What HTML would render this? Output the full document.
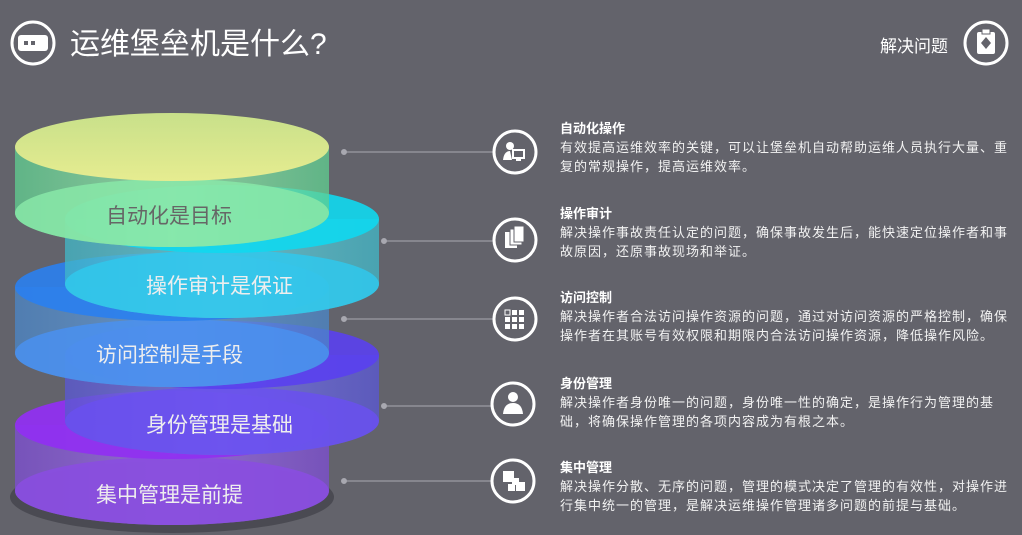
<!DOCTYPE html>
<html><head><meta charset="utf-8"><style>
html,body{margin:0;padding:0;background:#63636b;width:1022px;height:535px;overflow:hidden}
svg{display:block}
text{font-family:"Liberation Sans","Noto Sans CJK SC",sans-serif}
.t{fill:#fff;font-size:13px;font-weight:bold}
.b{fill:#f2f2f2;font-size:13px;letter-spacing:1px}
.c{font-size:21px}
</style></head><body>
<svg width="1022" height="535" viewBox="0 0 1022 535" xmlns="http://www.w3.org/2000/svg">
<defs>
<linearGradient id="s1" x1="0" x2="1"><stop offset="0" stop-color="#5fcf90"/><stop offset=".5" stop-color="#a0ecb0"/><stop offset="1" stop-color="#5fcf90"/></linearGradient>
<linearGradient id="t1" x1="0" y1="0" x2="0" y2="1"><stop offset="0" stop-color="#c8e08a"/><stop offset="1" stop-color="#e6ec90"/></linearGradient>
<linearGradient id="s2" x1="0" x2="1"><stop offset="0" stop-color="#40b8c8"/><stop offset=".5" stop-color="#70d0dc"/><stop offset="1" stop-color="#40b8c8"/></linearGradient>
<linearGradient id="s3" x1="0" x2="1"><stop offset="0" stop-color="#4a86c8"/><stop offset=".5" stop-color="#6aa0d8"/><stop offset="1" stop-color="#4a86c8"/></linearGradient>
<linearGradient id="s4" x1="0" x2="1"><stop offset="0" stop-color="#5a58d0"/><stop offset=".5" stop-color="#7a78e0"/><stop offset="1" stop-color="#5a58d0"/></linearGradient>
<linearGradient id="s5" x1="0" x2="1"><stop offset="0" stop-color="#7a50c8"/><stop offset=".5" stop-color="#9a70dc"/><stop offset="1" stop-color="#7a50c8"/></linearGradient>
</defs>
<rect width="1022" height="535" fill="#63636b"/>

<ellipse cx="172" cy="497" rx="162" ry="36" fill="#4a4a52"/>
<path d="M15 425 L15 491 A157 34 0 0 0 329 491 L329 425 Z" fill="url(#s5)" opacity=".85"/>
<ellipse cx="172" cy="491" rx="157" ry="34" fill="#8a4ee0" opacity=".9"/>
<ellipse cx="172" cy="425" rx="157" ry="34" fill="#9030f0" opacity=".95"/>
<text x="96" y="502" class="c" fill="#eee">集中管理是前提</text>

<path d="M65 355 L65 421 A157 34 0 0 0 379 421 L379 355 Z" fill="url(#s4)" opacity=".8"/>
<ellipse cx="222" cy="421" rx="157" ry="34" fill="#6a50f0" opacity=".85"/>
<ellipse cx="222" cy="355" rx="157" ry="34" fill="#5a40f0" opacity=".9"/>
<text x="146" y="432" class="c" fill="#eee">身份管理是基础</text>

<path d="M15 287 L15 353 A157 34 0 0 0 329 353 L329 287 Z" fill="url(#s3)" opacity=".75"/>
<ellipse cx="172" cy="353" rx="157" ry="34" fill="#4a90f0" opacity=".85"/>
<ellipse cx="172" cy="287" rx="157" ry="34" fill="#2a80f0" opacity=".9"/>
<text x="96" y="362" class="c" fill="#eee">访问控制是手段</text>

<path d="M65 219 L65 284 A157 34 0 0 0 379 284 L379 219 Z" fill="url(#s2)" opacity=".75"/>
<ellipse cx="222" cy="284" rx="157" ry="34" fill="#30c8ec" opacity=".85"/>
<ellipse cx="222" cy="219" rx="157" ry="34" fill="#10d8f0" opacity=".9"/>
<text x="146" y="293" class="c" fill="#eee">操作审计是保证</text>

<path d="M15 147 L15 213 A157 34 0 0 0 329 213 L329 147 Z" fill="url(#s1)" opacity=".75"/>
<ellipse cx="172" cy="213" rx="157" ry="34" fill="#88e8a8" opacity=".85"/>
<ellipse cx="172" cy="147" rx="157" ry="34" fill="url(#t1)"/>
<text x="106" y="223" class="c" fill="#666">自动化是目标</text>

<g stroke="#a8a8b0" stroke-width="1" fill="#a8a8b0">
<line x1="344" y1="152" x2="493" y2="152"/><circle cx="344" cy="152" r="2.5"/>
<line x1="384" y1="241" x2="493" y2="241"/><circle cx="384" cy="241" r="2.5"/>
<line x1="344" y1="319" x2="493" y2="319"/><circle cx="344" cy="319" r="2.5"/>
<line x1="384" y1="406" x2="493" y2="406"/><circle cx="384" cy="406" r="2.5"/>
<line x1="344" y1="481" x2="493" y2="481"/><circle cx="344" cy="481" r="2.5"/>
</g>
<g fill="none" stroke="#fff" stroke-width="3">
<circle cx="515" cy="152" r="21"/><circle cx="515" cy="240" r="21"/><circle cx="515" cy="319" r="21"/><circle cx="513" cy="404" r="21"/><circle cx="513" cy="481" r="21"/>
</g>
<g fill="#fff">
<circle cx="510" cy="146" r="4"/><path d="M503 160 Q504 151 510 151 L512 160Z"/><rect x="513" y="150" width="11" height="8" fill="none" stroke="#fff" stroke-width="2"/><rect x="516" y="158" width="5" height="3"/>
<rect x="505" y="232" width="12" height="16"/><rect x="510" y="229" width="12" height="16" stroke="#63636b" stroke-width="1"/><rect x="514" y="226" width="10" height="16" stroke="#63636b" stroke-width="1"/>
<rect x="505" y="310" width="5" height="5" fill="none" stroke="#fff" stroke-width="1"/><rect x="512" y="310" width="5" height="5"/><rect x="519" y="310" width="5" height="5"/><rect x="505" y="317" width="5" height="5"/><rect x="512" y="317" width="5" height="5"/><rect x="519" y="317" width="5" height="5"/><rect x="505" y="324" width="5" height="5"/><rect x="512" y="324" width="5" height="5"/><rect x="519" y="324" width="5" height="5"/>
<circle cx="513" cy="397" r="5"/><path d="M503 414 Q504 403 513 403 Q522 403 523 414Z"/>
<rect x="503" y="471" width="11" height="11"/><rect x="512" y="478" width="7" height="7"/><rect x="508" y="484" width="7" height="7"/><rect x="516" y="482" width="9" height="9"/>
</g>

<text x="560" y="133" class="t">自动化操作</text>
<text x="560" y="152" class="b">有效提高运维效率的关键，可以让堡垒机自动帮助运维人员执行大量、重</text>
<text x="560" y="171" class="b">复的常规操作，提高运维效率。</text>
<text x="560" y="218" class="t">操作审计</text>
<text x="560" y="237" class="b">解决操作事故责任认定的问题，确保事故发生后，能快速定位操作者和事</text>
<text x="560" y="256" class="b">故原因，还原事故现场和举证。</text>
<text x="560" y="302" class="t">访问控制</text>
<text x="560" y="321" class="b">解决操作者合法访问操作资源的问题，通过对访问资源的严格控制，确保</text>
<text x="560" y="340" class="b">操作者在其账号有效权限和期限内合法访问操作资源，降低操作风险。</text>
<text x="560" y="388" class="t">身份管理</text>
<text x="560" y="407" class="b">解决操作者身份唯一的问题，身份唯一性的确定，是操作行为管理的基</text>
<text x="560" y="426" class="b">础，将确保操作管理的各项内容成为有根之本。</text>
<text x="560" y="472" class="t">集中管理</text>
<text x="560" y="491" class="b">解决操作分散、无序的问题，管理的模式决定了管理的有效性，对操作进</text>
<text x="560" y="510" class="b">行集中统一的管理，是解决运维操作管理诸多问题的前提与基础。</text>

<circle cx="33" cy="43" r="21" fill="none" stroke="#fff" stroke-width="3"/>
<rect x="18" y="35" width="30" height="16" rx="3" fill="#fff"/>
<rect x="24" y="41" width="4" height="4" fill="#63636b"/><rect x="31" y="41" width="4" height="4" fill="#63636b"/>
<text x="70" y="54" fill="#fff" font-size="30">运维堡垒机是什么?</text>
<text x="880" y="52" fill="#fff" font-size="17">解决问题</text>
<circle cx="986" cy="43" r="21" fill="none" stroke="#fff" stroke-width="3"/>
<rect x="977" y="32" width="18" height="22" rx="2" fill="#fff"/>
<rect x="982" y="29" width="8" height="5" fill="#fff" stroke="#63636b" stroke-width="1"/>
<path d="M986 37 L991 43 L986 49 L981 43Z" fill="#63636b"/>
</svg>
</body></html>
